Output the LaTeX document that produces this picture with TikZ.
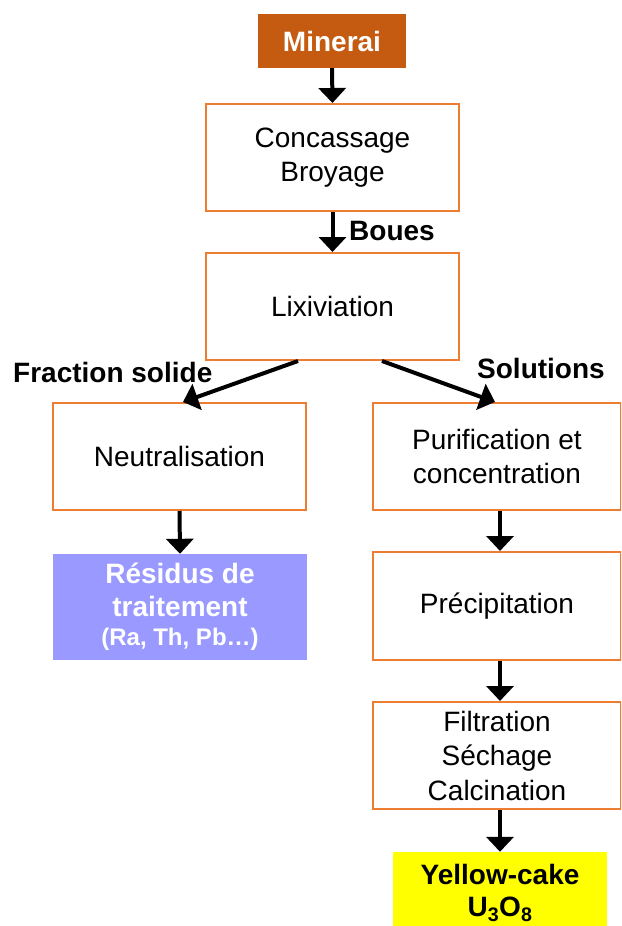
\documentclass[tikz,border=0pt]{standalone}
\usepackage{fontspec}
\setmainfont{Liberation Sans}
\usetikzlibrary{arrows.meta}
\definecolor{obord}{HTML}{ED7D31}
\definecolor{brownfill}{HTML}{C55A11}
\definecolor{violetfill}{HTML}{9999FF}
\definecolor{yellowfill}{HTML}{FFFF00}
\begin{document}
\begin{tikzpicture}[x=1pt,y=-1pt,
  box/.style={draw=obord, line width=2pt, minimum width=253pt, minimum height=107pt,
    inner sep=0pt, align=center, font=\fontsize{28}{34.5}\selectfont},
  rbox/.style={box, minimum width=248pt},
  filled/.style={inner sep=0pt, align=center, font=\bfseries\fontsize{28}{33}\selectfont},
  arr/.style={line width=4pt, -{Triangle[width=27pt,length=15pt]}},
  lbl/.style={anchor=base west, inner sep=0pt, font=\bfseries\fontsize{28}{31}\selectfont}]
\useasboundingbox (0,0) rectangle (621,926);
\clip (0,0) rectangle (621,926);
\fill[white] (0,0) rectangle (621,926);

\node[filled, fill=brownfill, text=white, minimum width=148pt, minimum height=54pt] (min) at (332,41) {Minerai};
\node[box] (conc) at (332.5,157.5) {Concassage\\Broyage};
\node[box] (lix) at (332.5,306.5) {Lixiviation};
\node[box] (neut) at (179.5,456.5) {Neutralisation};
\node[filled, fill=violetfill, text=white, minimum width=254pt, minimum height=106pt] (res) at (180,607)
  {Résidus de\\traitement\\[-4pt]{\fontsize{24}{26}\selectfont (Ra, Th, Pb…)}};
\node[rbox] (pur) at (497,456.5) {Purification et\\concentration};
\node[rbox, minimum height=108pt] (prec) at (497,606) {\raisebox{-2pt}{Précipitation}};
\node[rbox] (filt) at (497,755.5) {Filtration\\Séchage\\Calcination};
\node[filled, fill=yellowfill, minimum width=214pt, minimum height=82pt,
  font=\bfseries\fontsize{28}{32}\selectfont] (yc) at (500,893)
  {Yellow-cake\\U\textsubscript{3}O\textsubscript{8}};

\draw[arr] (min.south) -- (conc.north);
\draw[arr] (conc.south) -- (lix.north);
\draw[arr] ([xshift=-34.5pt]lix.south) -- ([xshift=3.5pt]neut.north);
\draw[arr] ([xshift=49.5pt]lix.south) -- ([xshift=-2pt]pur.north);
\draw[arr] (neut.south) -- (res.north);
\draw[arr] ([xshift=3pt]pur.south) -- ([xshift=3pt]prec.north);
\draw[arr] ([xshift=3pt]prec.south) -- ([xshift=3pt]filt.north);
\draw[arr] ([xshift=3pt]filt.south) -- (yc.north);

\node[lbl] (boues) at (349,240) {Boues};
\node[lbl] (frac) at (13,382) {Fraction solide};
\node[lbl] (sol) at (477,378) {Solutions};
\end{tikzpicture}
\end{document}
